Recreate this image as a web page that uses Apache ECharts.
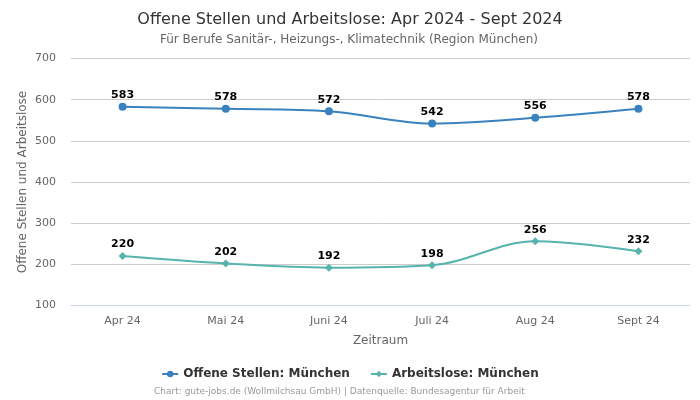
<!DOCTYPE html>
<html lang="de">

<head>
  <meta charset="UTF-8">
  <title>Offene Stellen und Arbeitslose</title>
  <style>
    html, body { margin: 0; padding: 0; background: #fff; }
    #chart { width: 700px; height: 400px; }
  </style>
</head>

<body>
  <div id="chart"></div>
  <script src="https://cdn.jsdelivr.net/npm/echarts@6/dist/echarts.min.js"></script>
  <script>
    var months = ['Apr 24', 'Mai 24', 'Juni 24', 'Juli 24', 'Aug 24', 'Sept 24'];
    var offeneStellen = [583, 578, 572, 542, 556, 578];
    var arbeitslose = [220, 202, 192, 198, 256, 232];

    var FONT = '"DejaVu Sans", sans-serif';
    var myChart = echarts.init(document.getElementById('chart'), null, { renderer: 'canvas' });

    function pointLabel() {
      return { show: true, position: 'top', distance: 2, color: '#000', fontFamily: FONT, fontSize: 11, fontWeight: 'bold' };
    }

    myChart.setOption({
      animation: false,
      backgroundColor: '#fff',
      title: [
        { text: 'Offene Stellen und Arbeitslose: Apr 2024 - Sept 2024', left: 'center', top: 7,
          textStyle: { color: '#333', fontFamily: FONT, fontSize: 16, fontWeight: 'normal' } },
        { text: 'Für Berufe Sanitär-, Heizungs-, Klimatechnik (Region München)', left: 160, top: 29, padding: [5, 0],
          textStyle: { color: '#666', fontFamily: FONT, fontSize: 12, fontWeight: 'normal' } },
        { text: 'Chart: gute-jobs.de (Wollmilchsau GmbH) | Datenquelle: Bundesagentur für Arbeit', left: 154, top: 382,
          padding: [5, 0],
          textStyle: { color: '#999', fontFamily: FONT, fontSize: 9, fontWeight: 'normal' } }
      ],
      legend: {
        top: 363, left: 'center', itemWidth: 16, itemHeight: 8, itemGap: 20,
        textStyle: { color: '#333', fontFamily: FONT, fontSize: 12, fontWeight: 'bold' }
      },
      grid: { left: 71, right: 10, top: 58.5, bottom: 94.5 },
      xAxis: {
        type: 'category', data: months, boundaryGap: true,
        name: 'Zeitraum', nameLocation: 'middle', nameGap: 29,
        nameTextStyle: { color: '#666', fontFamily: FONT, fontSize: 12 },
        axisLine: { lineStyle: { color: '#ccd6eb' } },
        axisTick: { show: false },
        axisLabel: { color: '#666', fontFamily: FONT, fontSize: 11, margin: 10 }
      },
      yAxis: {
        type: 'value', min: 100, max: 700, interval: 100,
        name: 'Offene Stellen und Arbeitslose', nameLocation: 'middle', nameGap: 42, nameMoveOverlap: false,
        nameTextStyle: { color: '#666', fontFamily: FONT, fontSize: 12 },
        axisLabel: { color: '#666', fontFamily: FONT, fontSize: 11, margin: 15, padding: [5, 0, 0, 0] },
        splitLine: { lineStyle: { color: '#ccc' } }
      },
      series: [
        { name: 'Offene Stellen: München', type: 'line', data: offeneStellen, smooth: 0.35,
          symbol: 'circle', symbolSize: 8, lineStyle: { color: '#3a82bd', width: 2 },
          itemStyle: { color: '#3a82bd' }, label: pointLabel() },
        { name: 'Arbeitslose: München', type: 'line', data: arbeitslose, smooth: 0.35,
          symbol: 'diamond', symbolSize: 8, lineStyle: { color: '#57b3ad', width: 2 },
          itemStyle: { color: '#57b3ad' }, label: pointLabel() }
      ]
    });
  </script>
</body>

</html>
